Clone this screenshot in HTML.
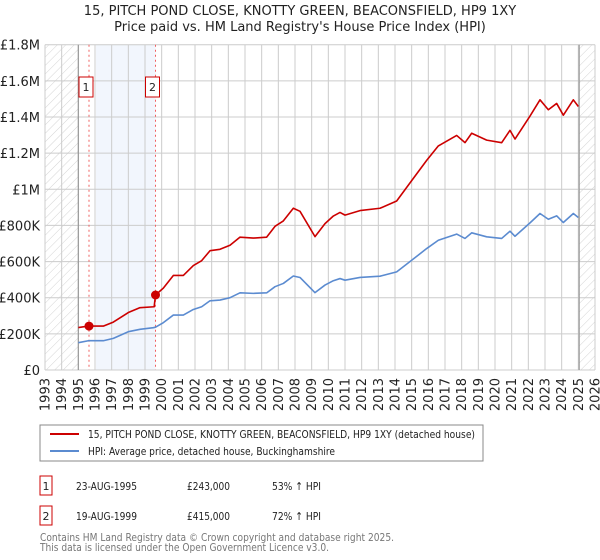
<!DOCTYPE html>
<html><head><meta charset="utf-8"><style>
body{margin:0;background:#fff;}
svg{display:block;font-family:"DejaVu Sans","Liberation Sans",sans-serif;}
</style></head><body>
<svg id="chart" width="600" height="560" viewBox="0 0 600 560" xmlns="http://www.w3.org/2000/svg">
<defs>
<pattern id="hatch" width="6" height="6" patternUnits="userSpaceOnUse" patternTransform="rotate(45)">
<line x1="0" y1="0" x2="0" y2="6" stroke="#d4d4d4" stroke-width="1"/>
</pattern>
</defs>
<text x="300" y="15" text-anchor="middle" font-size="13" fill="#222">15, PITCH POND CLOSE, KNOTTY GREEN, BEACONSFIELD, HP9 1XY</text>
<text x="300" y="31" text-anchor="middle" font-size="13" fill="#222">Price paid vs. HM Land Registry's House Price Index (HPI)</text>
<g id="plot"></g>
<rect x="40" y="425" width="443" height="36" fill="#fff" stroke="#888"/>
<line x1="50" y1="434" x2="79" y2="434" stroke="#cc0000" stroke-width="2"/>
<text x="88" y="438" font-size="11" fill="#222" textLength="387" lengthAdjust="spacingAndGlyphs">15, PITCH POND CLOSE, KNOTTY GREEN, BEACONSFIELD, HP9 1XY (detached house)</text>
<line x1="50" y1="451" x2="79" y2="451" stroke="#5b8bd0" stroke-width="2"/>
<text x="88" y="455" font-size="11" fill="#222" textLength="247" lengthAdjust="spacingAndGlyphs">HPI: Average price, detached house, Buckinghamshire</text>
<g>
<rect x="40" y="476" width="12" height="19" fill="#fff" stroke="#cc0000"/>
<text x="46" y="490" text-anchor="middle" font-size="11" fill="#222">1</text>
<text x="76" y="490" font-size="11" fill="#222" textLength="61" lengthAdjust="spacingAndGlyphs">23-AUG-1995</text>
<text x="187" y="490" font-size="11" fill="#222" textLength="43" lengthAdjust="spacingAndGlyphs">£243,000</text>
<text x="272" y="490" font-size="11" fill="#222" textLength="49" lengthAdjust="spacingAndGlyphs">53% ↑ HPI</text>
</g>
<g>
<rect x="40" y="506" width="12" height="19" fill="#fff" stroke="#cc0000"/>
<text x="46" y="520" text-anchor="middle" font-size="11" fill="#222">2</text>
<text x="76" y="520" font-size="11" fill="#222" textLength="61" lengthAdjust="spacingAndGlyphs">19-AUG-1999</text>
<text x="187" y="520" font-size="11" fill="#222" textLength="43" lengthAdjust="spacingAndGlyphs">£415,000</text>
<text x="272" y="520" font-size="11" fill="#222" textLength="49" lengthAdjust="spacingAndGlyphs">72% ↑ HPI</text>
</g>
<text x="40" y="541" font-size="11" fill="#777" textLength="354" lengthAdjust="spacingAndGlyphs">Contains HM Land Registry data © Crown copyright and database right 2025.</text>
<text x="40" y="551" font-size="11" fill="#777" textLength="289" lengthAdjust="spacingAndGlyphs">This data is licensed under the Open Government Licence v3.0.</text>
</svg>
<script>
const yTicks = [0, 200000, 400000, 600000, 800000, 1000000, 1200000, 1400000, 1600000, 1800000];
const yTickLabels = ["£0","£200K","£400K","£600K","£800K","£1M","£1.2M","£1.4M","£1.6M","£1.8M"];
const xYears = [1993,1994,1995,1996,1997,1998,1999,2000,2001,2002,2003,2004,2005,2006,2007,2008,2009,2010,2011,2012,2013,2014,2015,2016,2017,2018,2019,2020,2021,2022,2023,2024,2025,2026];
const hpiDates = [1995.0,1995.6,1996.5,1997.1,1998.0,1998.7,1999.5,1999.63,2000.1,2000.7,2001.3,2001.9,2002.4,2002.9,2003.5,2004.1,2004.7,2005.5,2006.3,2006.8,2007.3,2007.9,2008.3,2009.2,2009.8,2010.3,2010.7,2011.0,2011.9,2013.1,2014.1,2015.0,2015.9,2016.6,2017.7,2018.2,2018.6,2019.5,2020.4,2020.9,2021.2,2022.1,2022.7,2023.2,2023.7,2024.1,2024.7,2025.0];
const hpiValues = [151,162,162,175,212,225,234,237,262,304,304,335,350,383,387,400,427,424,427,461,479,520,512,428,470,494,506,497,512,519,543,607,672,718,752,728,759,737,728,768,740,814,866,834,853,816,866,844];
const priceDates = [1995.0,1995.6,1996.5,1997.1,1998.0,1998.7,1999.55,1999.63,2000.1,2000.7,2001.3,2001.9,2002.4,2002.9,2003.5,2004.1,2004.7,2005.5,2006.3,2006.8,2007.3,2007.9,2008.3,2009.2,2009.8,2010.3,2010.7,2011.0,2011.9,2013.1,2014.1,2015.0,2015.9,2016.6,2017.7,2018.2,2018.6,2019.5,2020.4,2020.9,2021.2,2022.1,2022.7,2023.2,2023.7,2024.1,2024.7,2025.0];
const priceValues = [235,243,243,265,318,345,350,415,453,523,523,578,605,660,668,690,735,730,735,795,825,895,878,738,810,852,872,857,882,895,935,1048,1160,1240,1298,1258,1310,1272,1258,1326,1278,1405,1495,1440,1475,1410,1495,1458];
const saleDates = [1995.64, 1999.63];
const salePrices = [243000, 415000];
const saleLabels = ["1","2"];

const X0=45, X1=595, Y0=370, Y1=44.7;
function xs(yr){return X0+(yr-1993)/(2026-1993)*(X1-X0);}
function ys(v){return Y0-v/1800000*(Y0-Y1);}
const NS="http://www.w3.org/2000/svg";
const g=document.getElementById('plot');
function mk(tag,attrs){const e=document.createElementNS(NS,tag);for(const k in attrs)e.setAttribute(k,attrs[k]);g.appendChild(e);return e;}

let e;
e=mk('rect',{x:X0,y:Y1,width:xs(1995)-X0,height:Y0-Y1,fill:'url(#hatch)'});


e=mk('rect',{x:xs(2025.05),y:Y1,width:X1-xs(2025.05),height:Y0-Y1,fill:'url(#hatch)'});


e=mk('rect',{x:xs(1996.06),y:Y1,width:xs(saleDates[1])-xs(1996.06),height:Y0-Y1,fill:'#f2f6fd'});



xYears.forEach(yr=>{
  const l=mk('line',{x1:xs(yr),x2:xs(yr),y1:Y1,y2:Y0,stroke:'#ccc','stroke-width':1});
  
  
  const t=mk('text',{x:xs(yr)+4.5,y:378,'text-anchor':'end','font-size':13,fill:'#222',transform:`rotate(-90 ${xs(yr)+4.5} 378)`});
  t.textContent=yr;
  
  
});
yTicks.forEach((v,i)=>{
  const l=mk('line',{x1:X0,x2:X1,y1:ys(v),y2:ys(v),stroke:'#ccc','stroke-width':1});
  
  
  const t=mk('text',{x:X0-5,y:ys(v)+5,'text-anchor':'end','font-size':13,fill:'#222'});
  t.textContent=yTickLabels[i];
  
  
});
[1995,2025.05].forEach(yr=>{
  const l=mk('line',{x1:xs(yr),x2:xs(yr),y1:Y1,y2:Y0,stroke:'#999','stroke-width':1.2});
  
  
});
saleDates.forEach((d,i)=>{
  const l=mk('line',{x1:xs(d),x2:xs(d),y1:Y1,y2:Y0,stroke:'#f06060','stroke-width':1,'stroke-dasharray':'2,3'});
  
  
  const r=mk('rect',{x:xs(d)-10,y:77,width:14,height:20,fill:'#fff',stroke:'#cc0000'});
  
  
  const t=mk('text',{x:xs(d)-3,y:91,'text-anchor':'middle','font-size':11,fill:'#222'});
  t.textContent=saleLabels[i];
  
  
});
function line(dates,vals,color,name){
  const p=mk('polyline',{points:dates.map((d,i)=>xs(d)+','+ys(vals[i]*1000)).join(' '),fill:'none',stroke:color,'stroke-width':1.6,'stroke-linejoin':'round'});
  
  
}
line(hpiDates,hpiValues,'#5b8bd0','hpi-line');
line(priceDates,priceValues,'#cc0000','price-line');
saleDates.forEach((d,i)=>{
  const c=mk('circle',{cx:xs(d),cy:ys(salePrices[i]),r:4.5,fill:'#cc0000'});
  
  
});
</script>
</body></html>
